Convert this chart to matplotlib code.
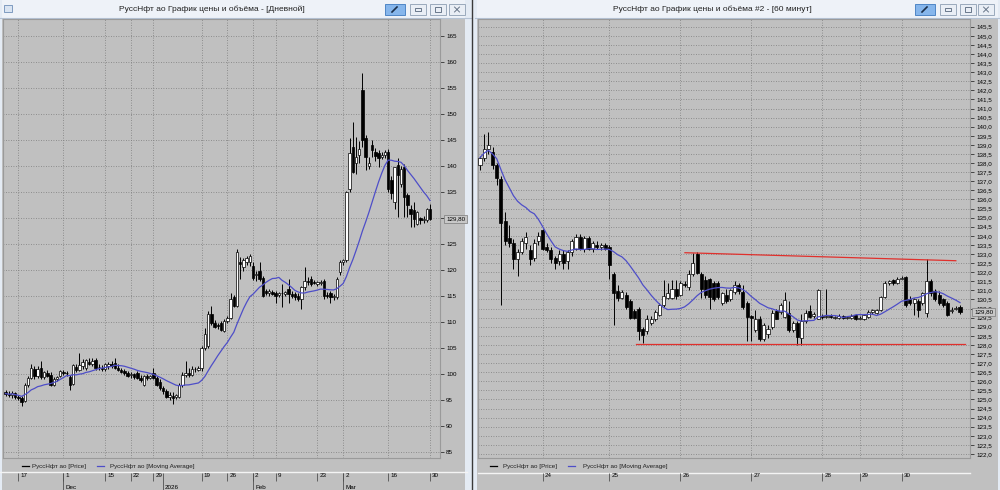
import numpy as np
import pandas as pd
import matplotlib
matplotlib.use("Agg")
import matplotlib.pyplot as plt
from matplotlib.patches import Rectangle
from matplotlib.transforms import ScaledTranslation

plt.rcParams['font.family'] = ['Liberation Sans', 'DejaVu Sans']

# ---------------- daily chart data ----------------
d_open = [96.4, 96.2, 95.9, 96.3, 95.5, 95.4, 94.8, 97.9, 99.2, 100.9,
          99.6, 101.1, 99.3, 100.2, 99.8, 97.9, 98.9, 99.6, 100.4, 100.1,
          99.4, 98.0, 101.3, 100.8, 101.4, 101.1, 102.3, 101.9, 102.7, 101.3,
          101.1, 100.9, 101.4, 101.9, 102.1, 101.2, 100.8, 100.6, 100.1, 99.8,
          99.9, 100.2, 99.2, 97.9, 99.5, 99.2, 100.2, 99.2, 98.5, 97.2,
          96.6, 95.6, 95.8, 95.6, 95.6, 97.8, 99.8, 100.2, 99.8, 100.9,
          100.8, 101.1, 105.0, 105.3, 111.5, 109.8, 109.3, 109.8, 108.2, 110.2,
          110.8, 114.7, 113.1, 121.5, 120.5, 121.6, 121.5, 120.8, 119.0, 119.8,
          118.5, 115.9, 115.6, 115.8, 115.6, 115.2, 115.6, 115.4, 116.3, 115.3,
          115.3, 115.0, 114.4, 116.6, 117.9, 118.2, 117.6, 117.3, 117.4, 117.9,
          115.2, 115.6, 114.7, 114.7, 119.5, 121.5, 121.8, 135.6, 143.6, 140.5,
          142.1, 154.7, 145.3, 140.0, 144.0, 142.6, 142.4, 141.8, 142.1, 142.7,
          137.3, 133.0, 140.2, 136.6, 139.8, 134.4, 131.8, 131.5, 128.9, 129.9,
          129.5, 129.5, 131.8]
d_high = [96.9, 96.6, 96.6, 96.5, 96.0, 95.7, 98.2, 99.6, 101.8, 101.4,
          101.5, 102.4, 100.6, 100.7, 100.3, 99.4, 99.6, 100.8, 100.8, 100.6,
          99.8, 101.9, 101.8, 104.0, 102.8, 102.9, 103.0, 103.1, 103.0, 101.8,
          101.6, 102.0, 102.3, 102.5, 103.0, 101.9, 101.2, 101.0, 100.6, 100.4,
          100.2, 100.6, 99.7, 99.8, 100.0, 99.8, 101.1, 99.5, 98.9, 97.6,
          97.0, 96.4, 96.5, 96.2, 98.2, 100.3, 102.4, 101.2, 101.4, 101.3,
          101.4, 105.3, 108.9, 112.1, 113.0, 110.4, 109.8, 110.2, 110.6, 111.2,
          115.6, 115.2, 124.0, 122.5, 122.2, 122.6, 123.0, 121.5, 119.8, 121.5,
          118.8, 116.4, 116.3, 116.2, 116.0, 115.8, 117.3, 116.0, 118.2, 115.9,
          115.8, 115.5, 116.8, 120.5, 118.6, 118.9, 118.0, 117.9, 118.1, 118.2,
          115.8, 116.0, 115.4, 118.6, 121.8, 122.0, 135.2, 145.3, 148.5, 145.6,
          144.7, 157.9, 146.0, 141.8, 145.0, 143.4, 143.0, 142.6, 143.0, 143.2,
          138.0, 139.8, 141.5, 139.9, 140.3, 134.8, 132.4, 133.1, 131.4, 130.2,
          130.3, 131.9, 132.7]
d_low = [95.8, 95.6, 95.4, 95.2, 95.0, 93.8, 94.6, 97.5, 98.9, 99.0,
         99.2, 98.9, 99.0, 99.4, 97.6, 97.6, 98.6, 99.4, 99.8, 99.6,
         96.9, 97.8, 100.4, 100.6, 100.9, 100.8, 101.6, 101.4, 100.8, 100.8,
         100.6, 100.6, 100.9, 101.2, 100.9, 100.6, 100.1, 99.8, 99.3, 99.1,
         99.0, 98.9, 98.4, 97.6, 98.8, 98.9, 98.9, 97.6, 96.8, 96.2,
         95.3, 95.0, 94.2, 95.2, 95.3, 97.4, 99.4, 99.4, 99.6, 100.4,
         100.5, 100.5, 104.6, 105.0, 109.4, 108.8, 108.6, 108.2, 108.0, 109.8,
         110.5, 112.8, 112.8, 118.2, 119.8, 121.0, 120.8, 118.0, 117.8, 117.8,
         114.8, 115.2, 115.0, 115.1, 113.7, 114.8, 112.8, 115.0, 113.7, 114.6,
         114.2, 114.0, 112.4, 116.2, 117.1, 116.9, 117.2, 116.8, 117.0, 114.4,
         114.5, 113.7, 114.2, 114.4, 119.0, 121.0, 121.5, 135.0, 138.6, 138.5,
         140.5, 143.7, 139.2, 139.5, 141.8, 141.0, 139.7, 141.4, 141.6, 135.0,
         133.7, 131.7, 130.2, 136.0, 130.2, 130.2, 128.2, 128.2, 128.6, 128.9,
         129.0, 129.2, 129.5]
d_close = [96.2, 95.9, 96.3, 95.5, 95.4, 94.6, 97.9, 99.2, 101.1, 99.6,
           101.0, 99.3, 100.3, 99.6, 97.9, 98.9, 99.3, 100.5, 100.1, 100.2,
           97.9, 101.7, 100.7, 101.6, 102.2, 102.7, 101.9, 102.5, 101.1, 101.3,
           100.9, 101.8, 101.9, 101.5, 101.1, 100.8, 100.4, 100.1, 99.6, 99.9,
           99.4, 99.2, 98.8, 99.5, 99.2, 99.5, 99.2, 97.9, 97.2, 96.6,
           95.6, 95.9, 95.4, 95.9, 97.9, 99.8, 100.2, 99.8, 100.9, 101.0,
           101.1, 105.0, 107.6, 111.5, 109.8, 109.0, 109.1, 108.5, 110.2, 110.8,
           114.4, 113.1, 123.4, 121.1, 121.8, 122.3, 122.7, 118.5, 119.2, 118.2,
           115.0, 115.6, 115.9, 115.4, 115.0, 115.5, 115.5, 115.7, 115.3, 115.0,
           114.7, 114.4, 116.6, 117.9, 117.6, 117.3, 117.5, 117.6, 117.6, 115.0,
           115.0, 114.7, 114.9, 118.2, 121.5, 121.8, 135.0, 142.4, 138.9, 141.8,
           143.2, 145.0, 141.8, 140.5, 143.1, 142.0, 141.5, 142.1, 142.7, 135.6,
           134.7, 139.8, 138.2, 139.5, 134.0, 132.4, 130.8, 129.8, 131.1, 129.5,
           129.7, 131.8, 129.8]
d_tick_pos = [4, 18, 31, 39, 46, 61, 69, 77, 84, 97, 105, 119, 132]
d_tick_lab = ['17', '1', '15', '22', '29', '19', '26', '2', '9', '23', '2', '16', '30']
d_month_pos = [18, 49, 77, 105]
d_month_lab = ['Dec', '2026', 'Feb', 'Mar']
d_yticks = [85, 90, 95, 100, 105, 110, 115, 120, 125, 130, 135, 140, 145, 150, 155, 160, 165]

# ---------------- 60-minute chart data ----------------
h_open = [137.9, 138.3, 138.8, 138.6, 137.9, 137.1, 134.8, 133.9, 133.6, 132.7,
          133.1, 133.6, 133.2, 132.8, 133.7, 134.3, 133.4, 133.2, 132.8, 132.6,
          133.0, 132.6, 133.1, 133.3, 133.95, 133.3, 133.9, 133.3, 133.5, 133.4,
          133.5, 133.4, 131.9, 130.95, 130.6, 130.75, 130.4, 129.85, 130.0, 128.9,
          128.75, 129.2, 129.45, 129.65, 130.2, 130.6, 130.6, 131.1, 130.75, 131.35,
          131.2, 131.9, 133.0, 131.9, 131.55, 131.65, 131.4, 131.4, 130.3, 130.75,
          130.5, 130.9, 131.3, 130.9, 130.3, 129.6, 128.8, 129.45, 128.3, 128.6,
          129.0, 129.85, 129.8, 129.55, 129.75, 128.8, 129.2, 128.4, 129.3, 129.85,
          129.6, 129.45, 129.6, 129.55, 129.6, 129.5, 129.5, 129.6, 129.5, 129.5,
          129.65, 129.45, 129.4, 129.55, 129.8, 129.75, 129.9, 130.65, 131.4, 131.55,
          131.4, 131.65, 131.75, 130.55, 130.3, 130.4, 130.3, 129.75, 131.5, 130.95,
          130.75, 130.5, 130.3, 129.85, 130.0, 130.1]
h_high = [138.4, 139.6, 139.7, 138.9, 138.0, 137.3, 135.3, 134.6, 133.8, 133.3,
          133.9, 134.2, 133.5, 133.8, 134.2, 134.4, 133.6, 133.4, 132.9, 133.2,
          133.2, 133.2, 133.8, 134.1, 134.1, 134.0, 134.0, 133.7, 133.7, 133.6,
          133.6, 133.5, 132.0, 131.3, 131.0, 130.9, 130.5, 130.0, 130.1, 129.0,
          129.65, 129.6, 129.9, 130.3, 131.55, 131.4, 131.55, 131.55, 131.5, 131.5,
          132.1, 133.05, 133.1, 132.0, 131.8, 131.7, 131.5, 131.5, 130.9, 131.1,
          131.1, 131.5, 131.4, 131.3, 130.4, 129.65, 129.9, 129.6, 129.2, 129.1,
          129.9, 130.0, 130.3, 130.9, 130.4, 129.3, 129.3, 129.7, 129.9, 130.2,
          129.8, 131.1, 129.7, 131.1, 129.7, 129.6, 129.7, 129.65, 129.6, 129.7,
          129.7, 129.6, 129.7, 129.9, 130.0, 130.0, 130.7, 131.5, 131.55, 131.6,
          131.75, 131.8, 131.8, 130.7, 130.6, 130.5, 130.9, 132.7, 131.6, 131.1,
          130.95, 130.6, 130.4, 130.1, 130.15, 130.2]
h_low = [137.6, 138.1, 138.5, 137.7, 136.8, 130.2, 133.5, 133.4, 132.2, 131.8,
         133.0, 133.3, 132.4, 132.6, 133.5, 133.2, 133.1, 132.5, 132.2, 132.4,
         132.2, 132.2, 132.9, 133.2, 133.2, 133.1, 133.2, 133.1, 133.3, 133.2,
         133.2, 131.65, 129.1, 130.4, 130.5, 130.0, 129.4, 129.4, 128.25, 128.1,
         128.6, 129.1, 129.3, 129.6, 130.1, 130.5, 130.5, 130.5, 130.7, 131.2,
         131.0, 131.8, 131.9, 130.6, 130.6, 130.0, 130.4, 130.5, 130.2, 130.3,
         130.4, 130.8, 130.8, 130.0, 128.2, 128.2, 128.7, 128.2, 128.2, 128.4,
         128.9, 129.4, 129.7, 129.5, 128.7, 128.7, 128.0, 128.0, 129.2, 129.5,
         129.5, 129.4, 129.4, 129.5, 129.5, 129.4, 129.45, 129.4, 129.4, 129.45,
         129.35, 129.4, 129.35, 129.5, 129.7, 129.7, 129.85, 130.6, 131.3, 131.3,
         131.35, 131.6, 130.1, 130.2, 129.65, 129.55, 130.2, 129.55, 130.7, 130.4,
         130.2, 130.1, 129.6, 129.75, 129.9, 129.7]
h_close = [138.3, 138.8, 139.0, 137.9, 137.2, 134.7, 133.7, 133.6, 132.7, 133.1,
           133.7, 133.95, 132.7, 133.6, 134.0, 133.3, 133.2, 132.7, 132.5, 133.0,
           132.5, 133.1, 133.7, 133.95, 133.3, 133.9, 133.3, 133.6, 133.4, 133.5,
           133.3, 132.4, 130.85, 130.6, 130.9, 130.1, 129.5, 129.5, 128.75, 128.55,
           129.45, 129.45, 129.8, 130.2, 130.7, 130.85, 131.1, 130.7, 131.4, 131.3,
           131.9, 132.5, 131.95, 131.1, 130.75, 130.65, 130.55, 130.65, 130.85, 130.4,
           131.0, 131.3, 130.95, 130.1, 129.55, 129.5, 129.45, 128.3, 129.1, 128.9,
           129.75, 129.45, 130.2, 130.45, 128.8, 129.2, 128.45, 129.3, 129.75, 129.55,
           129.7, 131.0, 129.55, 129.6, 129.55, 129.5, 129.6, 129.5, 129.55, 129.6,
           129.4, 129.5, 129.65, 129.8, 129.9, 129.9, 130.65, 131.4, 131.5, 131.4,
           131.65, 131.7, 130.2, 130.3, 130.55, 129.9, 130.85, 131.5, 130.85, 130.5,
           130.3, 130.2, 129.65, 129.9, 130.05, 129.8]
h_tick_pos = [15, 31, 48, 65, 82, 91, 101]
h_tick_lab = ['24', '25', '26', '27', '28', '29', '30']
# hand-drawn trend lines (start/end candle slot, price)
res_x = [49.1, 114.0]
res_y = [133.07, 132.63]
sup_x = [37.4, 116.2]
sup_y = [128.05, 128.05]

last_price = 129.80
ma_window = 14

# ---------------- layout ----------------
W, H = 1000, 490
GRAY = '#c0c0c0'
MA_COLOR = '#4e4ec8'
GRID = '#7c7c7c'


def px_rect(x0, y0, x1, y1):
    return [x0 / W, 1 - y1 / H, (x1 - x0) / W, (y1 - y0) / H]


fig = plt.figure(figsize=(10, 4.9), dpi=100)
fig.patch.set_facecolor(GRAY)

bg = fig.add_axes([0, 0, 1, 1])
bg.set_xlim(0, W)
bg.set_ylim(H, 0)
bg.axis('off')

# window chrome
for x0, w in [(0, 471), (475, 525)]:
    bg.add_patch(Rectangle((x0, 0), w, 18, fc='#eef2f8', ec='none'))
    bg.plot([x0, x0 + w], [18, 18], color='#b4c2d4', lw=0.8)
bg.add_patch(Rectangle((465, 0), 12, H, fc='#e4ebf4', ec='none'))
bg.add_patch(Rectangle((0, 0), 2, H, fc='#e4ebf4', ec='none'))
bg.add_patch(Rectangle((998, 0), 2, H, fc='#e4ebf4', ec='none'))
bg.plot([471.5, 471.5], [0, H], color='#3a3a3a', lw=1.0)

bg.text(212, 9.5, 'РуссНфт ао График цены и объёма - [Дневной]',
        ha='center', va='center', fontsize=6, color='#202020')
bg.text(712, 9.5, 'РуссНфт ао График цены и объёма #2 - [60 минут]',
        ha='center', va='center', fontsize=6, color='#202020')

# window icon
bg.add_patch(Rectangle((4, 5), 8, 7, fc='#d9e4f2', ec='#6f8fb8', lw=0.6))

# title buttons
for pin_x, btn_xs in [(385, [410, 430, 449]), (915, [940, 960, 978])]:
    bg.add_patch(Rectangle((pin_x, 4), 20, 11, fc='#86b6ec', ec='#4f86c6', lw=0.7))
    bg.plot([pin_x + 7, pin_x + 12], [12, 7], color='#1b2f4a', lw=1.2)
    for k, bx in enumerate(btn_xs):
        bg.add_patch(Rectangle((bx, 4), 16, 11, fc='#e9eef5', ec='#9aa9bc', lw=0.7))
        cx = bx + 8
        if k == 0:
            bg.add_patch(Rectangle((cx - 3, 8), 6, 3, fc='none', ec='#55657a', lw=0.6))
        elif k == 1:
            bg.add_patch(Rectangle((cx - 3, 7), 6, 5, fc='none', ec='#55657a', lw=0.6))
        else:
            bg.plot([cx - 2.5, cx + 2.5], [7, 12], color='#55657a', lw=0.6)
            bg.plot([cx - 2.5, cx + 2.5], [12, 7], color='#55657a', lw=0.6)

# legend rows and separator lines
bg.plot([0, 467], [471.5, 471.5], color='#f4f4f4', lw=1.0)
bg.plot([478, 970], [472.5, 472.5], color='#f4f4f4', lw=1.0)
for x_line, x_text, text, color in [
        (22, 32, 'РуссНфт ао [Price]', 'black'),
        (97, 110, 'РуссНфт ао [Moving Average]', MA_COLOR),
        (490, 503, 'РуссНфт ао [Price]', 'black'),
        (568, 583, 'РуссНфт ао [Moving Average]', MA_COLOR)]:
    bg.plot([x_line, x_line + 7], [466, 466], color=color, lw=0.9)
    bg.text(x_text, 466, text, fontsize=4.5, va='center', ha='left', color='#202020')


def candles(ax, o, h, l, c, width, min_h):
    o, h, l, c = map(np.asarray, (o, h, l, c))
    x = np.arange(len(o))
    ax.vlines(x, l, h, color='black', lw=0.7, zorder=3)
    up = c >= o
    lo = np.minimum(o, c)
    hh = np.maximum(np.abs(c - o), min_h)
    ax.bar(x[up], hh[up], width, bottom=lo[up], facecolor='white',
           edgecolor='black', lw=0.5, zorder=4)
    ax.bar(x[~up], hh[~up], width, bottom=lo[~up], facecolor='black',
           edgecolor='black', lw=0.5, zorder=4)
    ma = pd.Series(c).rolling(ma_window, min_periods=1).mean()
    ax.plot(x, ma, color=MA_COLOR, lw=0.9, zorder=5)


def setup(ax, xlim, ylim, yticks, ylabels, xticks, xlabels, plot_h):
    ax.set_facecolor(GRAY)
    ax.set_xlim(*xlim)
    ax.set_ylim(*ylim)
    for s in ax.spines.values():
        s.set_color('#9a9a9a')
        s.set_linewidth(0.8)
    ax.yaxis.tick_right()
    ax.set_yticks(yticks, ylabels)
    ax.tick_params(axis='y', length=3, width=0.6, pad=1.5, labelsize=4.5,
                   color='#303030')
    ax.set_xticks(xticks, xlabels)
    ax.tick_params(axis='x', length=0, pad=10.8, labelsize=4.5)
    off = ScaledTranslation(2 / 100, 0, fig.dpi_scale_trans)
    for lbl in ax.get_xticklabels():
        lbl.set_horizontalalignment('left')
        lbl.set_transform(lbl.get_transform() + off)
    ax.grid(True, color=GRID, linestyle=(0, (1, 2)), lw=0.6)
    ax.set_axisbelow(True)
    # tick marks of the date strip
    y_top = -15 / plot_h
    y_bot = -23 / plot_h
    ax.vlines(xticks, y_bot, y_top, transform=ax.get_xaxis_transform(),
              color='#505050', lw=0.6, clip_on=False)
    return off


def price_box(ax, off_px):
    off = ScaledTranslation(off_px / 100, 0, fig.dpi_scale_trans)
    ax.text(1.0, last_price, f'{last_price:.2f}'.replace('.', ','),
            transform=ax.get_yaxis_transform() + off, fontsize=4.5,
            ha='left', va='center', zorder=10,
            bbox=dict(boxstyle='square,pad=0.25', fc='#c8c8c8', ec='#7a7a7a', lw=0.5))


# ---------------- daily chart ----------------
axd = fig.add_axes(px_rect(3, 19, 440, 458))
sx = (430 - 5.5) / 132
sy = (451.7 - 36) / 80
xlim_d = (-(5.5 - 3) / sx, 132 + (440 - 430) / sx)
ylim_d = (85 - (458 - 451.7) / sy, 165 + (36 - 19) / sy)
# the current-price box covers the label next to it, as in the terminal
d_ylabels = ['' if abs(v - last_price) < 2.5 else str(v) for v in d_yticks]
off_d = setup(axd, xlim_d, ylim_d, d_yticks, d_ylabels,
              d_tick_pos, d_tick_lab, 439)
candles(axd, d_open, d_high, d_low, d_close, 0.75, 0.08)
for pos, lab in zip(d_month_pos, d_month_lab):
    axd.text(pos, -29 / 439, lab, transform=axd.get_xaxis_transform() + off_d,
             fontsize=4.5, ha='left', va='center')
axd.vlines(d_month_pos, -32 / 439, -15 / 439, transform=axd.get_xaxis_transform(),
           color='#505050', lw=0.6, clip_on=False)
price_box(axd, 6)

# ---------------- hourly chart ----------------
axh = fig.add_axes(px_rect(478, 19, 970, 458))
sxh = (960 - 480) / 115
syh = (454 - 26.7) / 23.5
xlim_h = (-(480 - 478) / sxh, 115 + (970 - 960) / sxh)
ylim_h = (122.0 - (458 - 454) / syh, 145.5 + (26.7 - 19) / syh)
h_yticks = np.arange(122.0, 145.51, 0.5)
setup(axh, xlim_h, ylim_h, h_yticks, [f'{v:.1f}'.replace('.', ',') for v in h_yticks],
      h_tick_pos, h_tick_lab, 439)
candles(axh, h_open, h_high, h_low, h_close, 0.72, 0.03)
axh.plot(res_x, res_y, color='#e0302c', lw=0.9, zorder=6)
axh.plot(sup_x, sup_y, color='#e0302c', lw=0.9, zorder=6)
price_box(axh, 4)

fig.savefig('out.png', dpi=100, facecolor=fig.get_facecolor())
